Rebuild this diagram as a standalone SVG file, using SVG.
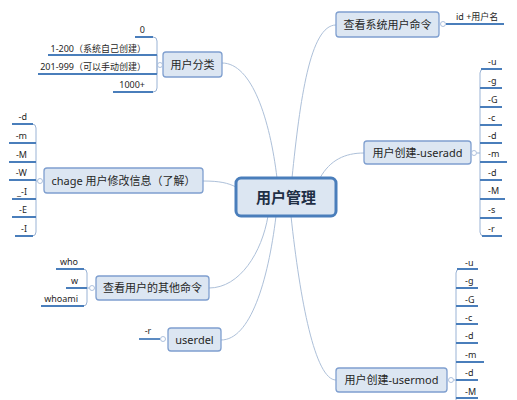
<svg xmlns="http://www.w3.org/2000/svg" width="517" height="400" viewBox="0 0 517 400">
<style>
.bg{fill:#ffffff}
.node{fill:#dce6f2;stroke:#7f9fcf;stroke-width:1.3}
.root{fill:#dce6f2;stroke:#4a7ebb;stroke-width:3}
.t{font-family:"Noto Sans","Noto Sans CJK SC",sans-serif;fill:#262626}
.nt{font-size:11px;text-anchor:middle}
.rt{font-size:15px;font-weight:bold;text-anchor:middle;fill:#1f2f45}
.lt{font-size:9px}
.ul{stroke:#4a7ebb;stroke-width:1.8;fill:none}
.br{stroke:#9ab3d5;stroke-width:1;fill:none}
.con{stroke:#adc0d9;stroke-width:1;fill:none}
.dot{fill:#ffffff;stroke:#9ab3d5;stroke-width:0.8}
</style>
<rect class="bg" x="0" y="0" width="517" height="400"/>
<g id="connectors">
<path class="con" d="M222,63 C252,63 270,120 277,178"/>
<path class="con" d="M292,178 C300,100 310,25 336,25"/>
<path class="con" d="M320,178 C330,160 345,153 364,153"/>
<path class="con" d="M203,181 C220,181 228,183 236,187"/>
<path class="con" d="M268,216 C262,252 240,288 209,288"/>
<path class="con" d="M276,216 C268,282 250,340 221,340"/>
<path class="con" d="M291,216 C300,300 315,380 336,380"/>
</g>
<g id="root">
<rect class="root" x="236" y="178" width="100" height="38" rx="5"/>
<text class="t rt" x="286" y="203">用户管理</text>
</g>
<g id="n-fenlei">
<rect class="node" x="163" y="52" width="59" height="25" rx="3"/>
<text class="t nt" x="192.5" y="68.5">用户分类</text>
<path class="br" d="M157,65 V41 Q157,37 153,37 M157,65 V55 M157,65 V74 M157,65 V88 Q157,92 153,92"/>
<circle class="dot" cx="160" cy="65" r="2.5"/>
<path class="ul" d="M135,37 H153 M48,55 H157 M38,74 H157 M113,92 H153"/>
<text class="t lt" x="145" y="33" text-anchor="end">0</text>
<text class="t lt" x="146" y="51.5" text-anchor="end">1-200（系统自己创建）</text>
<text class="t lt" x="146" y="70" text-anchor="end">201-999（可以手动创建）</text>
<text class="t lt" x="145" y="88" text-anchor="end">1000+</text>
</g>
<g id="n-chakan">
<rect class="node" x="336" y="12" width="103" height="25" rx="3"/>
<text class="t nt" x="387.5" y="28.5">查看系统用户命令</text>
<circle class="dot" cx="443" cy="24" r="2.5"/>
<path class="ul" d="M446,24 H504"/>
<text class="t lt" x="456" y="20">id +用户名</text>
</g>
<g id="n-useradd">
<rect class="node" x="364" y="141" width="107" height="23" rx="3"/>
<text class="t nt" x="417.5" y="156.5">用户创建-useradd</text>
<circle class="dot" cx="474" cy="153" r="2.5"/>
<path class="br" d="M477,153 H480 M480,153 V73 Q480,69 484,69 M480,153 V232 Q480,236 484,236"/>
<path class="ul" d="M481,69 H502 M480,88 H502 M480,107 H502 M480,125 H502 M480,143 H502 M480,162 H507 M480,180 H502 M480,199 H505 M480,218 H502 M482,236 H502"/>
<text class="t lt" x="488" y="65">-u</text>
<text class="t lt" x="488" y="84">-g</text>
<text class="t lt" x="488" y="103">-G</text>
<text class="t lt" x="488" y="121">-c</text>
<text class="t lt" x="488" y="139">-d</text>
<text class="t lt" x="488" y="157">-m</text>
<text class="t lt" x="488" y="176">-d</text>
<text class="t lt" x="488" y="194">-M</text>
<text class="t lt" x="488" y="213">-s</text>
<text class="t lt" x="488" y="232">-r</text>
</g>
<g id="n-chage">
<rect class="node" x="44" y="168" width="159" height="25" rx="3"/>
<text class="t nt" x="123.5" y="185">chage 用户修改信息（了解）</text>
<circle class="dot" cx="40" cy="181" r="2.5"/>
<path class="br" d="M37,181 H36 M36,181 V128 Q36,124 32,124 M36,181 V232 Q36,236 32,236"/>
<path class="ul" d="M12,124 H33 M9,143 H36 M9,162 H36 M9,180 H36 M12,199 H36 M12,217 H36 M15,236 H33"/>
<text class="t lt" x="27" y="120" text-anchor="end">-d</text>
<text class="t lt" x="27" y="139" text-anchor="end">-m</text>
<text class="t lt" x="27" y="158" text-anchor="end">-M</text>
<text class="t lt" x="27" y="176" text-anchor="end">-W</text>
<text class="t lt" x="27" y="195" text-anchor="end">_-I</text>
<text class="t lt" x="27" y="213" text-anchor="end">-E</text>
<text class="t lt" x="27" y="232" text-anchor="end">-I</text>
</g>
<g id="n-qita">
<rect class="node" x="96" y="276" width="113" height="24" rx="3"/>
<text class="t nt" x="152.5" y="292">查看用户的其他命令</text>
<circle class="dot" cx="92" cy="288" r="2.5"/>
<path class="br" d="M89,288 H87 M87,288 V273 Q87,269 83,269 M87,288 V302 Q87,306 83,306"/>
<path class="ul" d="M56,269 H84 M66,288 H87 M41,306 H84"/>
<text class="t lt" x="78" y="265" text-anchor="end">who</text>
<text class="t lt" x="78" y="284" text-anchor="end">w</text>
<text class="t lt" x="78" y="302" text-anchor="end">whoami</text>
</g>
<g id="n-userdel">
<rect class="node" x="168" y="328" width="53" height="23" rx="3"/>
<text class="t nt" x="194.5" y="344">userdel</text>
<circle class="dot" cx="163" cy="339" r="2.5"/>
<path class="ul" d="M139,339 H160"/>
<text class="t lt" x="148" y="334" text-anchor="middle">-r</text>
</g>
<g id="n-usermod">
<rect class="node" x="336" y="368" width="111" height="24" rx="3"/>
<text class="t nt" x="391.5" y="384">用户创建-usermod</text>
<circle class="dot" cx="451" cy="380" r="2.5"/>
<path class="br" d="M454,380 H456 M456,380 V273 Q456,269 460,269 M456,380 V402"/>
<path class="ul" d="M457,269 H478 M456,288 H478 M456,306 H478 M456,324 H478 M456,343 H478 M456,362 H484 M456,380 H478 M456,398 H478"/>
<text class="t lt" x="465" y="266">-u</text>
<text class="t lt" x="465" y="284">-g</text>
<text class="t lt" x="465" y="303">-G</text>
<text class="t lt" x="465" y="321">-c</text>
<text class="t lt" x="465" y="339">-d</text>
<text class="t lt" x="465" y="358">-m</text>
<text class="t lt" x="465" y="376">-d</text>
<text class="t lt" x="465" y="395">-M</text>
</g>
</svg>
